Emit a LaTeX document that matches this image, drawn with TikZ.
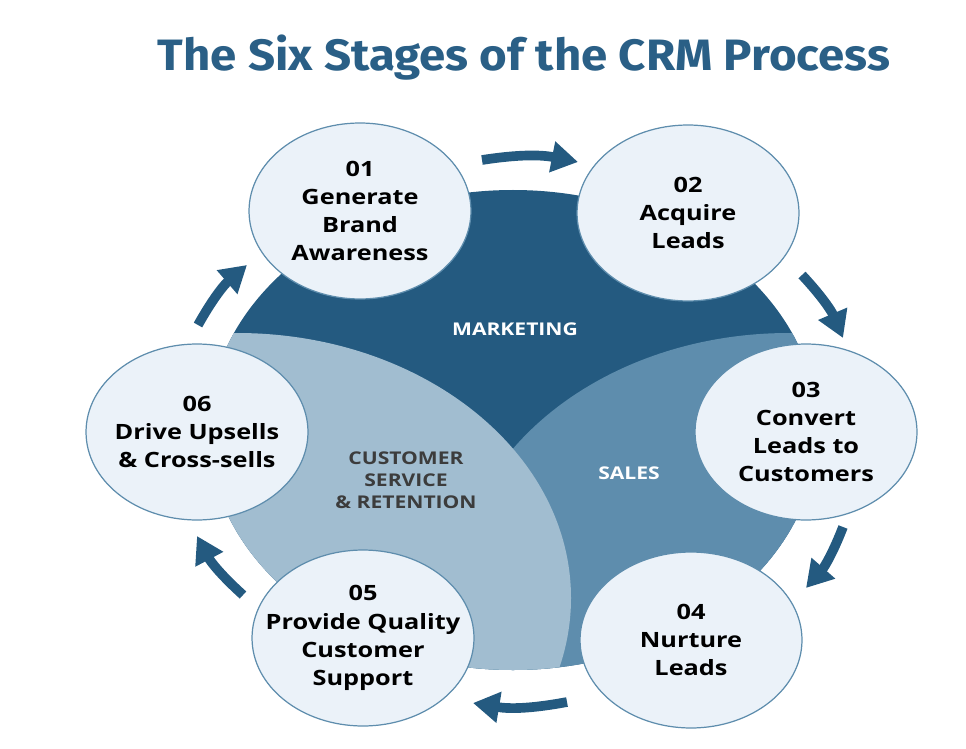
\documentclass[tikz,border=0pt]{standalone}
\usepackage{fontspec}
\setmainfont{Open Sans}[FakeStretch=1.2]
\newfontfamily\titlefont{Fira Sans}[FakeStretch=1.08]
\usetikzlibrary{arrows.meta,shapes.geometric}
\definecolor{crmdark}{HTML}{245A80}
\definecolor{crmmid}{HTML}{5E8DAD}
\definecolor{crmlight}{HTML}{A1BDD0}
\definecolor{crmpale}{HTML}{EBF2F9}
\definecolor{crmtitle}{HTML}{2A5F86}
\definecolor{crmgray}{HTML}{3C3C3C}

\begin{document}
\begin{tikzpicture}[x=0.02cm,y=0.02cm,
  every node/.style={font=\bfseries\fontsize{12}{16}\selectfont},
  stage/.style={ellipse,draw=crmmid,line width=0.7pt,fill=crmpale,
    minimum width=4.44cm,minimum height=3.52cm,inner sep=0pt},
  stagetext/.style={align=center,text=black},
  flow/.style={crmdark,line width=5.5pt,-{Triangle[length=15pt,width=17pt]}},
  area/.style={align=center,font=\bfseries\fontsize{10}{12.5}\selectfont}]
  \useasboundingbox (0,0) rectangle (966,748);
  \node[text=crmtitle,font=\titlefont\bfseries\fontsize{25}{30}\selectfont]
    (title) at (524,690) {The Six Stages of the CRM Process};
  \fill[crmdark] (513,318) ellipse [x radius=305,y radius=240];
  \begin{scope}
    \clip (513,318) ellipse [x radius=305,y radius=240];
    \fill[crmmid] (789,150) ellipse [x radius=334,y radius=265];
    \fill[crmlight] (237,150) ellipse [x radius=334,y radius=265];
  \end{scope}
  \node[area,text=white] (mkt) at (515,419) {MARKETING};
  \node[area,text=white] (sales) at (629,275) {SALES};
  \node[area,text=crmgray] (csr) at (406,268) {CUSTOMER\\SERVICE\\\& RETENTION};
  \coordinate (a1) at (482,588); \coordinate (b1) at (578,586);
  \coordinate (a2) at (802,473); \coordinate (b2) at (843,410);
  \coordinate (a3) at (843,221); \coordinate (b3) at (806,160);
  \coordinate (a4) at (567,46);  \coordinate (b4) at (473,45);
  \coordinate (a5) at (243,153); \coordinate (b5) at (197,212);
  \coordinate (a6) at (198,423); \coordinate (b6) at (247,483);
  \foreach \i in {1,...,6}
    \draw[flow] (a\i) to[bend left=10] (b\i);
  \node[stage] (s1) at (360,537) {};
  \node[stage] (s2) at (688,535) {};
  \node[stage] (s3) at (806,316) {};
  \node[stage] (s4) at (691,108) {};
  \node[stage] (s5) at (363,110) {};
  \node[stage] (s6) at (197,316) {};
  \node[stagetext] (t1) at (s1) {01\\Generate\\Brand\\Awareness};
  \node[stagetext] (t2) at (s2) {02\\Acquire\\Leads};
  \node[stagetext] (t3) at (s3) {03\\Convert\\Leads to\\Customers};
  \node[stagetext] (t4) at (s4) {04\\Nurture\\Leads};
  \node[stagetext] (t5) at (s5) {05\\Provide Quality\\Customer\\Support};
  \node[stagetext] (t6) at (s6) {06\\Drive Upsells\\\& Cross-sells};
\end{tikzpicture}
\end{document}
